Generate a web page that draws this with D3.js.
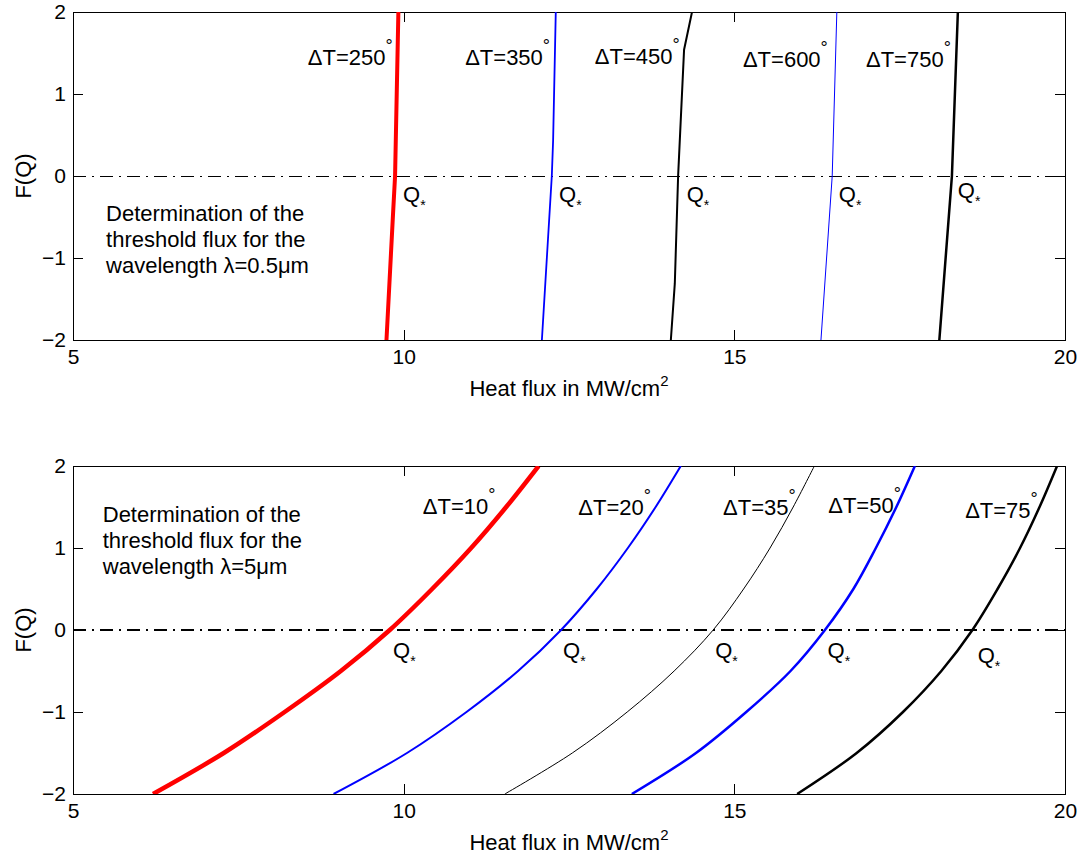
<!DOCTYPE html>
<html>
<head>
<meta charset="utf-8">
<script src="https://cdn.jsdelivr.net/npm/d3@7"></script>
<style>
body { margin: 0; background: #fff; }
text { font-family: "Liberation Sans", Arial, Helvetica, sans-serif; }
</style>
</head>
<body>
<div id="chart"></div>
<script>
"use strict"

// axis ticks
var q_ticks = [5, 10, 15, 20]
var f_ticks = [-2, -1, 0, 1, 2]

// upper plot, lambda = 0.5 um  (heat flux Q, F(Q))
var dT_upper = [250, 350, 450, 600, 750]
var q_250 = [9.74, 9.84, 9.87, 9.92]
var f_250 = [-2, -0.45, 0, 2]
var q_350 = [12.09, 12.24, 12.26, 12.30]
var f_350 = [-2, 0, 0.44, 2]
var q_450 = [14.04, 14.10, 14.15, 14.24, 14.36]
var f_450 = [-2, -1.31, 0, 1.54, 2]
var q_600 = [16.31, 16.48, 16.55]
var f_600 = [-2, 0, 2]
var q_750 = [18.10, 18.29, 18.38]
var f_750 = [-2, 0, 2]

// lower plot, lambda = 5 um
var dT_lower = [10, 20, 35, 50, 75]
var f_lower = [-2, -1.5, -1, -0.5, 0, 0.5, 1, 1.5, 2]
var q_10 = [6.21, 7.28, 8.20, 9.05, 9.79, 10.43, 11.02, 11.55, 12.04]
var q_20 = [8.94, 10.05, 10.95, 11.73, 12.38, 12.92, 13.39, 13.81, 14.19]
var q_35 = [11.53, 12.55, 13.38, 14.09, 14.68, 15.14, 15.54, 15.89, 16.21]
var q_50 = [13.45, 14.42, 15.18, 15.85, 16.37, 16.80, 17.14, 17.45, 17.73]
var q_75 = [15.95, 16.85, 17.55, 18.13, 18.60, 18.98, 19.32, 19.615, 19.88]

var width = 1081
var height = 863
var fs = 22

var svg = d3.select("#chart").append("svg")
    .attr("width", width)
    .attr("height", height)

var x = d3.scaleLinear().domain([5, 20]).range([73, 1065])
var y = d3.scaleLinear().domain([-2, 2]).range([328, 0])

function zip(qs, fs) {
    var out = []
    for (var i = 0; i < qs.length; i++) out.push({ q: qs[i], f: fs[i] })
    return out
}

function add_panel(top, id) {
    var g = svg.append("g").attr("transform", "translate(0," + top + ")")

    g.append("clipPath").attr("id", "clip" + id)
        .append("rect")
        .attr("x", 73).attr("y", 0)
        .attr("width", 992).attr("height", 328)

    // axes, ticks pointing inward like matlab
    g.append("g")
        .attr("transform", "translate(0,328)")
        .call(d3.axisBottom(x).tickValues(q_ticks).tickFormat(d3.format("d"))
            .tickSizeInner(-10).tickSizeOuter(0).tickPadding(9))
    g.append("g")
        .attr("transform", "translate(73,0)")
        .call(d3.axisLeft(y).tickValues(f_ticks).tickFormat(d3.format("d"))
            .tickSizeInner(-10).tickSizeOuter(0).tickPadding(7))
    g.append("g")
        .call(d3.axisTop(x).tickValues(q_ticks).tickSizeInner(-10).tickSizeOuter(0).tickFormat(""))
    g.append("g")
        .attr("transform", "translate(1065,0)")
        .call(d3.axisRight(y).tickValues(f_ticks).tickSizeInner(-10).tickSizeOuter(0).tickFormat(""))

    g.selectAll(".tick text")
        .attr("font-size", 21)
        .attr("font-family", "Liberation Sans, Arial, sans-serif")
    g.selectAll(".domain, .tick line")
        .attr("stroke", "#000").attr("stroke-width", 1)
        .attr("shape-rendering", "crispEdges")

    // y label
    g.append("text")
        .attr("transform", "translate(31," + y(0) + ") rotate(-90)")
        .attr("text-anchor", "middle")
        .attr("font-size", fs)
        .text("F(Q)")

    // x label
    var xl = g.append("text")
        .attr("x", 569).attr("y", 384)
        .attr("text-anchor", "middle")
        .attr("font-size", fs)
        .text("Heat flux in MW/cm")
    xl.append("tspan").attr("font-size", 15).attr("dy", -10).text("2")

    return g
}

var line_lin = d3.line()
    .x(function(d) { return x(d.q) })
    .y(function(d) { return y(d.f) })

var line_smooth = d3.line()
    .x(function(d) { return x(d.q) })
    .y(function(d) { return y(d.f) })
    .curve(d3.curveCatmullRom.alpha(0.5))

function draw_curve(g, id, data, gen, color, w) {
    g.append("path")
        .attr("clip-path", "url(#clip" + id + ")")
        .attr("d", gen(data))
        .attr("fill", "none")
        .attr("stroke", color)
        .attr("stroke-width", w)
}

function zero_line(g, w) {
    g.append("line")
        .attr("x1", x(5)).attr("x2", x(20))
        .attr("y1", y(0)).attr("y2", y(0))
        .attr("stroke", "#000")
        .attr("stroke-width", w)
        .attr("shape-rendering", "crispEdges")
        .attr("stroke-dasharray", "13,6,2,6")
}

function dT_label(g, txt, at) {
    var t = g.append("text")
        .attr("x", x(at[0])).attr("y", y(at[1]))
        .attr("font-size", fs)
        .text("\u0394T=" + txt)
    t.append("tspan").attr("font-size", 18).attr("dy", -13).text("\u00b0")
}

function q_label(g, at) {
    var t = g.append("text")
        .attr("x", x(at[0])).attr("y", y(at[1]))
        .attr("font-size", fs)
        .text("Q")
    t.append("tspan").attr("font-size", 14).attr("dy", 8).text("*")
}

function note(g, at, lines) {
    var t = g.append("text")
        .attr("x", x(at[0])).attr("y", y(at[1]))
        .attr("font-size", fs)
    for (var i = 0; i < lines.length; i++) {
        t.append("tspan")
            .attr("x", x(at[0]))
            .attr("dy", i == 0 ? 0 : 26)
            .text(lines[i])
    }
}

// ---- upper plot
var g1 = add_panel(12, 1)
zero_line(g1, 1)
draw_curve(g1, 1, zip(q_250, f_250), line_lin, "#ff0000", 4)
draw_curve(g1, 1, zip(q_350, f_350), line_lin, "#0000ff", 1.8)
draw_curve(g1, 1, zip(q_450, f_450), line_lin, "#000000", 2)
draw_curve(g1, 1, zip(q_600, f_600), line_lin, "#0000ff", 1)
draw_curve(g1, 1, zip(q_750, f_750), line_lin, "#000000", 2.5)

var upper_label_at = [[8.55, 1.35], [10.93, 1.35], [12.89, 1.37], [15.13, 1.33], [16.99, 1.33]]
var upper_q_at = [[9.99, -0.32], [12.35, -0.32], [14.28, -0.32], [16.58, -0.32], [18.38, -0.27]]
for (var i = 0; i < dT_upper.length; i++) {
    dT_label(g1, dT_upper[i], upper_label_at[i])
    q_label(g1, upper_q_at[i])
}
note(g1, [5.50, -0.55], ["Determination of the", "threshold flux for the", "wavelength \u03bb=0.5\u03bcm"])

// ---- lower plot
var g2 = add_panel(466, 2)
zero_line(g2, 2)
var lower_q = [q_10, q_20, q_35, q_50, q_75]
var lower_col = ["#ff0000", "#0000ff", "#000000", "#0000ff", "#000000"]
var lower_w = [4.5, 2, 1, 2.5, 2.5]
for (var i = 0; i < lower_q.length; i++) {
    draw_curve(g2, 2, zip(lower_q[i], f_lower), line_smooth, lower_col[i], lower_w[i])
}

var lower_label_at = [[10.29, 1.42], [12.64, 1.40], [14.83, 1.40], [16.42, 1.43], [18.49, 1.37]]
var lower_q_at = [[9.84, -0.34], [12.41, -0.34], [14.71, -0.34], [16.41, -0.34], [18.68, -0.40]]
for (var i = 0; i < dT_lower.length; i++) {
    dT_label(g2, dT_lower[i], lower_label_at[i])
    q_label(g2, lower_q_at[i])
}
note(g2, [5.45, 1.32], ["Determination of the", "threshold flux for the", "wavelength \u03bb=5\u03bcm"])

</script>
</body>
</html>
